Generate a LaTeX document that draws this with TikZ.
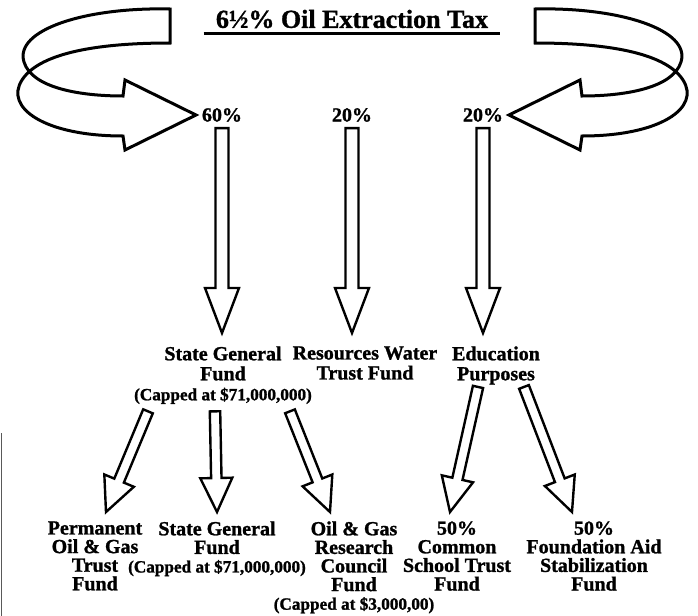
\documentclass[tikz,border=0pt]{standalone}
\usepackage{fontspec}
\setmainfont{Liberation Serif}[BoldFeatures={FakeBold=1.2}]
\usepackage{tikz}
\usetikzlibrary{calc}

\newcommand{\cappedfont}{\fontsize{8.6}{9}\selectfont}
\newcommand{\fatarrow}[5]{%
	\coordinate (fa-s) at (#1);
	\coordinate (fa-e) at (#2);
	\coordinate (fa-h) at ($(fa-e)!#5!(fa-s)$);
	\draw [blockarrow] ($(fa-s)!#3!90:(fa-e)$) -- ($(fa-h)!#3!90:(fa-e)$) -- ($(fa-h)!#4!90:(fa-e)$) -- (fa-e) -- ($(fa-h)!#4!-90:(fa-e)$) -- ($(fa-h)!#3!-90:(fa-e)$) -- ($(fa-s)!#3!-90:(fa-e)$) -- cycle;}

\begin{document}
\begin{tikzpicture}[x=0.5pt,y=-0.5pt,
	lbl/.style={shape=rectangle,inner sep=0pt,align=center,font=\bfseries\fontsize{10}{10}\selectfont},
	fund/.style={lbl,anchor=north,execute at begin node={\rule{0pt}{7.2pt}}},
	blockarrow/.style={draw=black,fill=white,line width=1.2pt,line join=miter},
	ribbon/.style={draw=black,fill=white,line width=1.5pt,line join=miter}]
	\useasboundingbox (0,0) rectangle (698,616);

	\node [lbl,font=\bfseries\fontsize{13}{13}\selectfont] (T) at (352,19) {6½\% Oil Extraction Tax};
	\draw [line width=1.1pt] ($(T.south west)+(-12,5)$) -- ($(T.south east)+(12,5)$);

	\node [lbl] (P60) at (222,115) {60\%};
	\node [lbl] (P20a) at (352,115) {20\%};
	\node [lbl] (P20b) at (483,115) {20\%};

	\node [fund] (SG) at (223,346) {State General\\Fund\\{\cappedfont (Capped at \$71,000,000)}};
	\node [fund] (RW) at (365,346) {Resources Water\\Trust Fund};
	\node [fund] (ED) at (496,346) {Education\\Purposes};

	\node [fund,font=\bfseries\fontsize{10}{9.3}\selectfont] (PT) at (95,521) {Permanent\\Oil \& Gas\\Trust\\Fund};
	\node [fund,font=\bfseries\fontsize{10}{9.3}\selectfont] (SG2) at (217,521) {State General\\Fund\\{\cappedfont (Capped at \$71,000,000)}};
	\node [fund,font=\bfseries\fontsize{10}{9.3}\selectfont] (OG) at (354,521) {Oil \& Gas\\Research\\Council\\Fund\\{\cappedfont (Capped at \$3,000,00)}};
	\node [fund,font=\bfseries\fontsize{10}{9.3}\selectfont] (CS) at (457,521) {50\%\\Common\\School Trust\\Fund};
	\node [fund,font=\bfseries\fontsize{10}{9.3}\selectfont] (FA) at (594,521) {50\%\\Foundation Aid\\Stabilization\\Fund};

	\draw [ribbon] (170,9) .. controls (85,7) and (14,30) .. (24,62) .. controls (32,88) and (80,96) .. (123,96) -- (125,80) -- (196,115) -- (125,150) -- (123,136) .. controls (45,136) and (4,108) .. (22,80) .. controls (38,55) and (90,43) .. (170,43) -- cycle;
	\draw [ribbon] (535,9) .. controls (620,7) and (691,30) .. (681,62) .. controls (673,88) and (625,96) .. (582,96) -- (580,80) -- (509,115) -- (580,150) -- (582,136) .. controls (660,136) and (701,108) .. (683,80) .. controls (667,55) and (615,43) .. (535,43) -- cycle;

	\fatarrow{$(P60.south)+(0,6)$}{$(P60.south |- SG.north)+(0,-13)$}{3.25pt}{8.5pt}{22.5pt}
	\fatarrow{$(P20a.south)+(0,6)$}{$(P20a.south |- RW.north)+(0,-13)$}{3.25pt}{8.5pt}{22.5pt}
	\fatarrow{$(P20b.south)+(0,6)$}{$(P20b.south |- ED.north)+(0,-13)$}{3.25pt}{8.5pt}{22.5pt}

	\fatarrow{$(SG.south)+(-75,7)$}{$(PT.north)+(11,-9)$}{2.6pt}{8pt}{17pt}
	\fatarrow{$(SG.south)+(-8,7)$}{$(SG2.north)+(0,-9)$}{2.6pt}{8pt}{17pt}
	\fatarrow{$(SG.south)+(67,7)$}{$(OG.north)+(-24,-9)$}{2.6pt}{8pt}{17pt}
	\fatarrow{$(ED.south)+(-18,2)$}{$(CS.north)+(-7,-9)$}{2.6pt}{8pt}{17pt}
	\fatarrow{$(ED.south)+(28,2)$}{$(FA.north)+(-22,-9)$}{2.6pt}{8pt}{17pt}

	\draw [gray!70!black,line width=0.7pt] (1.5,433) -- (1.5,616);
\end{tikzpicture}
\end{document}
